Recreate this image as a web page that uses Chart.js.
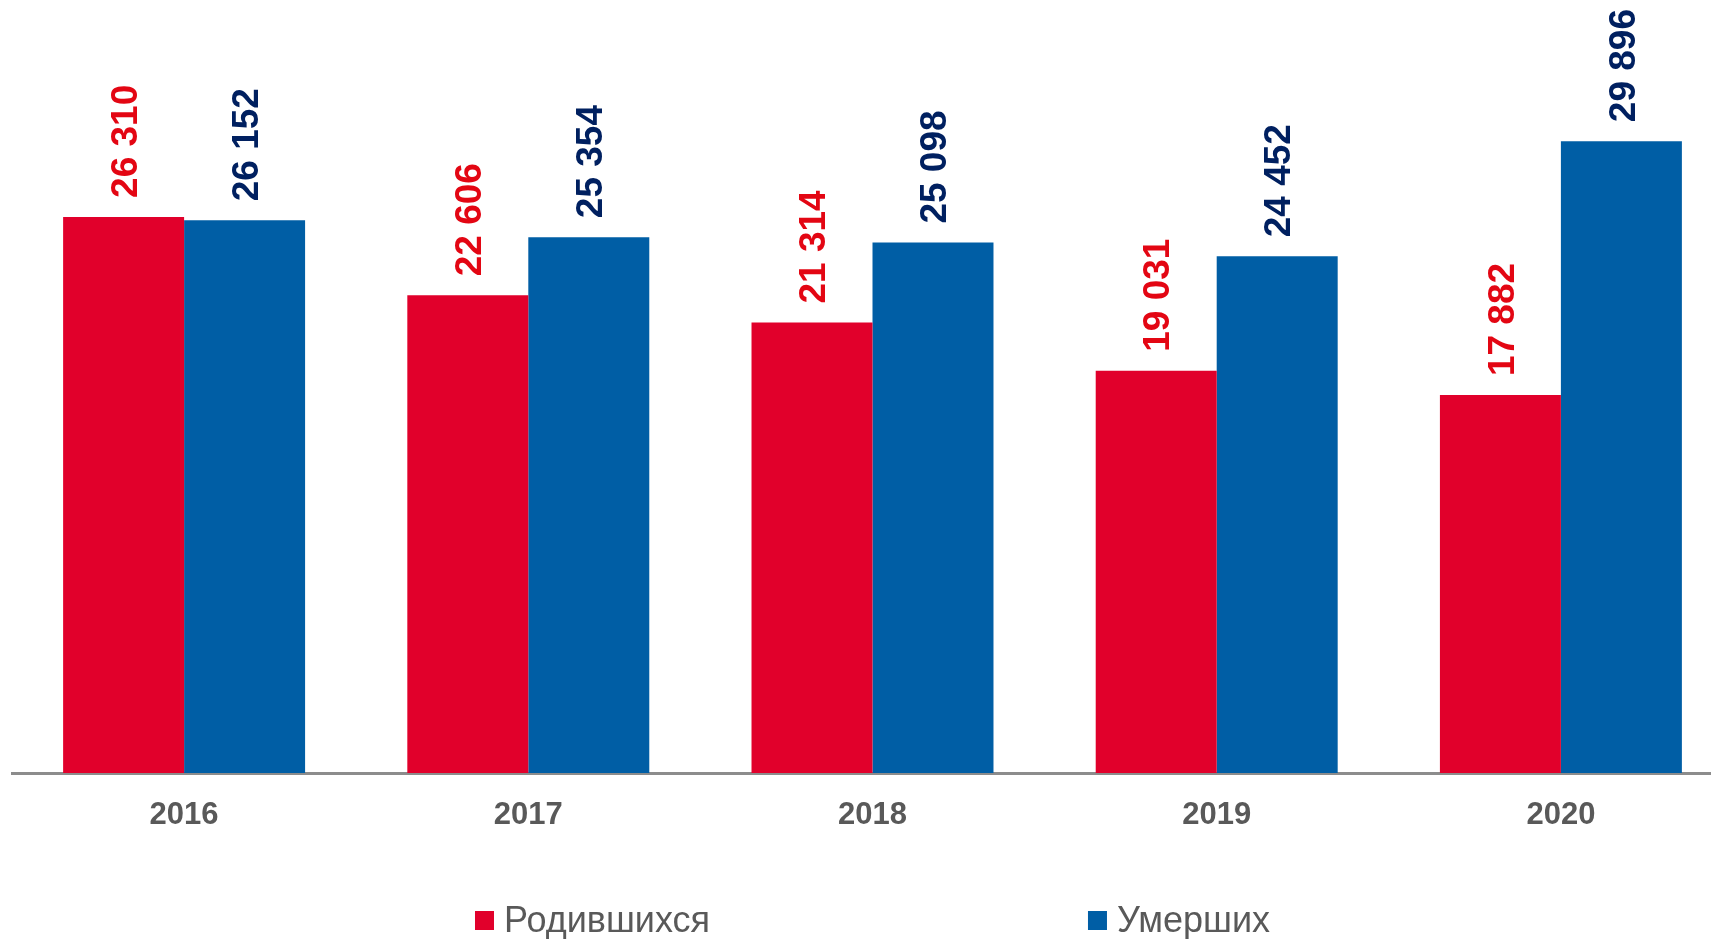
<!DOCTYPE html>
<html>
<head>
<meta charset="utf-8">
<script src="https://cdn.jsdelivr.net/npm/chart.js@4/dist/chart.umd.min.js"></script>
<style>
  html, body { margin: 0; padding: 0; background: #fff; overflow: hidden; }
  #wrap { width: 1733px; height: 939px; }
</style>
</head>
<body>
<div id="wrap"><canvas id="canvas" width="1733" height="939"></canvas></div>
<script>
var years = ['2016', '2017', '2018', '2019', '2020'];
var born = [26310, 22606, 21314, 19031, 17882];
var died = [26152, 25354, 25098, 24452, 29896];
var seriesNames = ['Родившихся', 'Умерших'];

var FONT = '"Liberation Sans", Arial, sans-serif';

function fmt(v) {
    return String(v).replace(/\B(?=(\d{3})+(?!\d))/g, ' ');
}

// vertical value labels above each bar
var valueLabels = {
    id: 'valueLabels',
    afterDatasetsDraw: function(chart) {
        var ctx = chart.ctx;
        var size = 37;
        chart.data.datasets.forEach(function(ds, i) {
            var meta = chart.getDatasetMeta(i);
            meta.data.forEach(function(bar, j) {
                ctx.save();
                ctx.font = 'bold ' + size + 'px ' + FONT;
                ctx.fillStyle = ds.labelColor;
                ctx.textAlign = 'left';
                ctx.textBaseline = 'alphabetic';
                ctx.translate(bar.x + size * 0.358, bar.y - 19);
                ctx.rotate(-Math.PI / 2);
                ctx.fillText(fmt(ds.data[j]), 0, 0);
                ctx.restore();
            });
        });
    }
};

// wide spaced legend at the bottom
var bottomLegend = {
    id: 'bottomLegend',
    afterDraw: function(chart) {
        var ctx = chart.ctx;
        var box = 19, gap = 10, between = 378;
        ctx.save();
        ctx.font = '36px ' + FONT;
        var items = chart.data.datasets.map(function(ds) {
            return { text: ds.label, color: ds.backgroundColor, w: ctx.measureText(ds.label).width };
        });
        var total = 0;
        items.forEach(function(it, k) {
            total += box + gap + it.w + (k ? between : 0);
        });
        var area = chart.chartArea;
        var x = (area.left + area.right) / 2 - total / 2;
        var cy = 920.5;
        ctx.textBaseline = 'middle';
        ctx.textAlign = 'left';
        items.forEach(function(it) {
            ctx.fillStyle = it.color;
            ctx.fillRect(x, cy - box / 2, box, box);
            ctx.fillStyle = '#595959';
            ctx.fillText(it.text, x + box + gap, cy + 2);
            x += box + gap + it.w + between;
        });
        ctx.restore();
    }
};

var ctx = document.getElementById('canvas').getContext('2d');
var config = {
    type: 'bar',
    data: {
        labels: years,
        datasets: [{
            label: seriesNames[0],
            data: born,
            backgroundColor: '#E1002B',
            labelColor: '#E30613',
            categoryPercentage: 0.703,
            barPercentage: 1
        }, {
            label: seriesNames[1],
            data: died,
            backgroundColor: '#005EA5',
            labelColor: '#002060',
            categoryPercentage: 0.703,
            barPercentage: 1
        }]
    },
    options: {
        responsive: false,
        animation: false,
        layout: { padding: { left: 12, right: 0, top: 0, bottom: 0 } },
        plugins: {
            legend: { display: false },
            tooltip: { enabled: false }
        },
        scales: {
            x: {
                z: 1,
                grid: { display: false, drawTicks: false },
                border: { display: true, color: '#8C8C8C', width: 3 },
                ticks: {
                    color: '#595959',
                    padding: 24,
                    font: { family: FONT, size: 31, weight: 'bold' }
                },
                afterFit: function(scale) { scale.height = 166; }
            },
            y: {
                display: false,
                min: 0,
                max: 36575
            }
        }
    },
    plugins: [valueLabels, bottomLegend]
};

var chart = new Chart(ctx, config);
</script>
</body>
</html>
